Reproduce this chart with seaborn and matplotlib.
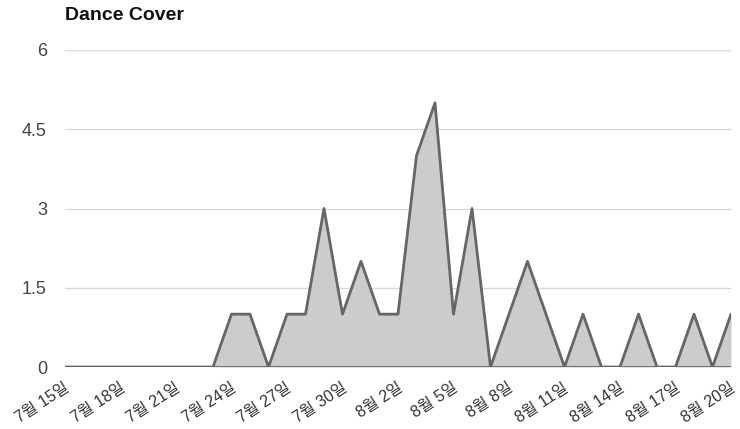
import matplotlib
matplotlib.use("Agg")
import matplotlib.pyplot as plt
import matplotlib.transforms as mtransforms
import numpy as np
import pandas as pd
import seaborn as sns

# Daily counts of "Dance Cover" posts, 15 Jul – 20 Aug
start_date = "2023-07-15"
end_date = "2023-08-20"
counts = [0, 0, 0, 0, 0, 0, 0, 0, 0,   # 7/15 – 7/23
          1, 1, 0, 1, 1, 3, 1, 2,      # 7/24 – 7/31
          1, 1, 4, 5, 1, 3, 0, 1, 2, 1, 0,  # 8/1 – 8/11
          1, 0, 0, 1, 0, 0, 1, 0, 1]   # 8/12 – 8/20
y_ticks = [0, 1.5, 3, 4.5, 6]
y_tick_labels = ["0", "1.5", "3", "4.5", "6"]
title = "Dance Cover"

dates = pd.date_range(start_date, end_date, freq="D")
df = pd.DataFrame({"date": dates, "count": counts})

sns.set_theme(style="white")
plt.rcParams["font.family"] = ["Liberation Sans", "Noto Sans CJK KR", "DejaVu Sans"]

fig = plt.figure(figsize=(7.4, 4.29), dpi=100)
ax = fig.add_axes([65 / 740, 62 / 429, 666 / 740, 317 / 429])

ax.fill_between(df["date"], df["count"], 0, color="#cccccc", linewidth=0, zorder=2)
sns.lineplot(data=df, x="date", y="count", ax=ax, color="#666666",
             linewidth=2, zorder=3)
ax.plot([dates[0], dates[-1]], [0, 0], color="#666666", linewidth=2, zorder=3)

ax.set_xlim(dates[0], dates[-1])
ax.set_ylim(0, 6)
ax.set_yticks(y_ticks)
ax.set_yticklabels(y_tick_labels, fontsize=13, color="#444444")
ax.yaxis.grid(True, color="#d9d9d9", linewidth=1, zorder=0)
ax.set_axisbelow(True)

tick_dates = dates[::3]
ax.set_xticks(tick_dates)
ax.set_xticklabels([f"{d.month}월 {d.day}일" for d in tick_dates],
                   rotation=33, ha="right", va="center", rotation_mode="anchor",
                   fontsize=11.5, color="#333333")
ax.tick_params(axis="x", length=0, pad=14)
ax.tick_params(axis="y", length=0, pad=13)

# nudge the rotated date labels so their ends sit just right of each tick
shift = mtransforms.ScaledTranslation(3 / 100, 0, fig.dpi_scale_trans)
for lbl in ax.get_xticklabels():
    lbl.set_transform(lbl.get_transform() + shift)

ax.set_xlabel("")
ax.set_ylabel("")
for side in ["top", "right", "left", "bottom"]:
    ax.spines[side].set_visible(False)

fig.text(65 / 740, 1 - 16 / 429, title, fontsize=14, fontweight="bold",
         color="#111111", va="center", ha="left")

fig.savefig("out.png", dpi=100, facecolor="white")
